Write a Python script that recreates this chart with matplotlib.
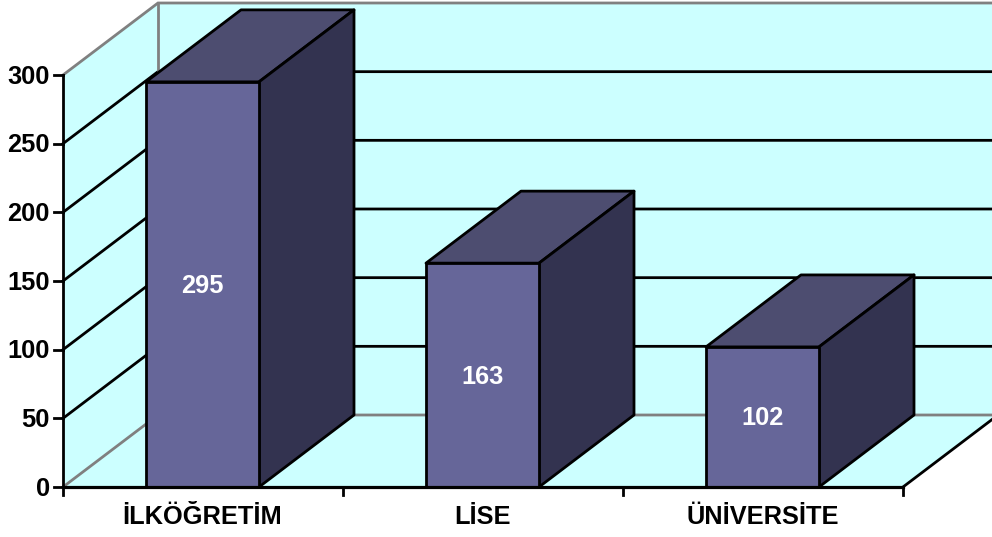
import matplotlib.pyplot as plt
from matplotlib.patches import Polygon

categories = ['İLKÖĞRETİM', 'LİSE', 'ÜNİVERSİTE']
values = [295, 163, 102]
y_ticks = [0, 50, 100, 150, 200, 250, 300]

plt.rcParams['font.family'] = ['Liberation Sans', 'DejaVu Sans']

WALL = '#CCFFFF'
GRAY = '#808080'
FRONT = '#666699'
TOP = '#4D4D70'
SIDE = '#333350'
LW = 2.0
FS = 18.3

# one category = 280 px, one value unit = 412/300 px
px_x = 280.0
px_y = 412 / 300.0
depth_x = 95 / px_x
depth_y = 72 / px_y
bar_w = 113 / px_x
n = len(categories)
ymax = y_ticks[-1]

fig = plt.figure(figsize=(9.92, 5.37), dpi=100)
ax = fig.add_axes([0, 0, 1, 1])
ax.set_xlim(-63 / px_x, (992 - 63) / px_x)
ax.set_ylim(-50 / px_y, 487 / px_y)
ax.axis('off')


def poly(pts, color, z, ec='none'):
    ax.add_patch(Polygon(pts, closed=True, fc=color, ec=ec, lw=LW, zorder=z, joinstyle='round'))


# walls and floor
poly([(0, 0), (depth_x, depth_y), (depth_x, ymax + depth_y), (0, ymax)], WALL, 1)
poly([(depth_x, depth_y), (n + depth_x, depth_y), (n + depth_x, ymax + depth_y), (depth_x, ymax + depth_y)], WALL, 1)
poly([(0, 0), (n, 0), (n + depth_x, depth_y), (depth_x, depth_y)], WALL, 1)

# grid lines on the side and back walls
for t in y_ticks:
    c = GRAY if t in (0, ymax) else 'black'
    ax.plot([0, depth_x, n + depth_x], [t, t + depth_y, t + depth_y], color=c, lw=LW, zorder=2,
            solid_joinstyle='miter')
ax.plot([depth_x, depth_x], [depth_y, ymax + depth_y], color=GRAY, lw=LW, zorder=2)
ax.plot([n, n + depth_x], [0, depth_y], color='black', lw=LW, zorder=2)

# axes and ticks
ax.plot([0, 0], [0, ymax], color='black', lw=LW, zorder=6)
ax.plot([0, n], [0, 0], color='black', lw=LW + 0.3, zorder=6)
for t in y_ticks:
    ax.plot([-9 / px_x, 0], [t, t], color='black', lw=LW, zorder=6)
    ax.text(-13 / px_x, t - 1.5 / px_y, str(t), ha='right', va='center', fontsize=FS, fontweight='bold', zorder=7)
for i in range(n + 1):
    ax.plot([i, i], [0, -8 / px_y], color='black', lw=LW, zorder=6)

# bars
for i, (cat, v) in enumerate(zip(categories, values)):
    x0 = i + 0.5 - bar_w / 2 - 0.5 / px_x
    x1 = x0 + bar_w
    poly([(x0, v), (x1, v), (x1 + depth_x, v + depth_y), (x0 + depth_x, v + depth_y)], TOP, 4, 'black')
    poly([(x1, 0), (x1 + depth_x, depth_y), (x1 + depth_x, v + depth_y), (x1, v)], SIDE, 4, 'black')
    poly([(x0, 0), (x1, 0), (x1, v), (x0, v)], FRONT, 5, 'black')
    ax.text((x0 + x1) / 2, v / 2 - 1.5 / px_y, str(v), color='white', ha='center', va='center',
            fontsize=FS, fontweight='bold', zorder=7)
    ax.text((x0 + x1) / 2, -30 / px_y, cat, ha='center', va='center', fontsize=FS,
            fontweight='bold', zorder=7)

fig.savefig('out.png', dpi=100)
